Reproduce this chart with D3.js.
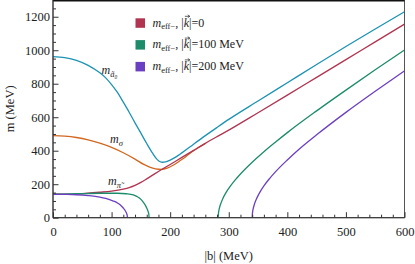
<!DOCTYPE html>
<html><head><meta charset="utf-8">
<script src="https://cdn.jsdelivr.net/npm/d3@7"></script>
<style>
body{margin:0;background:#fff}
svg{display:block}
text{font-family:"Liberation Serif","DejaVu Serif","Noto Serif","Times New Roman",serif !important;fill:#222}
</style>
</head><body>
<svg id="c" width="415" height="264"></svg>
<script>
// ---- data ----
const xTicks = [0, 100, 200, 300, 400, 500, 600];
const yTicks = [0, 200, 400, 600, 800, 1000, 1200];
const xMinor = [20,40,60,80,120,140,160,180,220,240,260,280,320,340,360,380,420,440,460,480,520,540,560,580];
const yMinor = [50,100,150,250,300,350,450,500,550,650,700,750,850,900,950,1050,1100,1150,1250];
const legendLabels = ["0", "100 MeV", "200 MeV"];

// m_a0 (cyan)
const mA0 = [[0,962],[20,956],[40,940],[60,910],[80,865],[90,835],[100,795],[110,748],[120,690],[130,630],[140,566],[150,505],[160,443],[170,385],[178,347],[183,334],[187,331],[192,333],[200,344],[210,363],[220,387],[240,439],[260,490],[280,539],[300,587],[350,697],[400,806],[450,915],[500,1022],[550,1127],[600,1230]];
// m_sigma (orange)
const mSigma = [[0,490],[20,487],[40,479],[60,465],[80,445],[100,420],[120,388],[140,350],[155,318],[165,302],[175,292],[185,289],[195,296],[205,313],[215,336],[225,360],[235,388],[245,412],[260,444]];
// m_eff-, |k|=0  (red, m_pi)
const mK0 = [[0,140],[20,140.5],[40,142],[60,146],[80,152],[100,159],[120,171],[130,180],[140,193],[150,211],[160,232],[170,254],[180,276],[200,318],[220,360],[240,402],[260,444],[280,484],[300,523],[350,627],[400,732],[450,838],[500,944],[550,1050],[600,1156]];
// m_eff-, |k|=100 MeV (green), two branches
const mK100a = [[0,140],[40,143],[80,146],[110,146],[125,143],[137,136],[143,127],[148,116],[152,102],[155,88],[158,72],[160,58],[162,41],[163,29],[163.7,16],[164,0]];
const mK100b = [[282,0],[282.5,28],[283,40],[284,57],[285,70],[287,90],[290,115],[295,148],[300,175],[310,221],[320,261],[340,331],[360,394],[380,452],[400,508],[450,638],[500,762],[550,883],[600,1001]];
// m_eff-, |k|=200 MeV (purple), two branches
const mK200a = [[0,140],[20,139],[40,137],[60,132],[80,123],[90,115],[100,104],[105,97],[110,88],[115,76],[120,58],[123,44],[125,31],[126,22],[126.7,12],[127,0]];
const mK200b = [[340,0],[340.5,29],[341,41],[342,58],[344,83],[347,110],[350,132],[355,163],[360,190],[370,235],[380,275],[400,345],[420,409],[450,495],[500,629],[550,755],[600,877]];

const colA0 = "#1c93b3", colSigma = "#d2681f", colRed = "#b13450", colGreen = "#1c8c6b", colPurple = "#6b3fc2";
const FONT = "'Liberation Serif','DejaVu Serif','Noto Serif','Times New Roman',serif";

// ---- chart ----
const svg = d3.select("#c");
const x = d3.scaleLinear().domain([0, 600]).range([53, 404.5]);
const y = d3.scaleLinear().domain([0, 1300]).range([217.7, 0]);

svg.append("defs").append("clipPath").attr("id","clip")
  .append("rect").attr("x", x(0)).attr("y", y(1300)).attr("width", x(600)-x(0)).attr("height", y(0)-y(1300));

const line = d3.line().x(d => x(d[0])).y(d => y(d[1])).curve(d3.curveMonotoneX);
const g = svg.append("g").attr("clip-path","url(#clip)");
const series = [
  [mA0, colA0], [mSigma, colSigma], [mK0, colRed],
  [mK100a, colGreen], [mK100b, colGreen], [mK200a, colPurple], [mK200b, colPurple]
];
series.forEach(([d, c]) => {
  g.append("path").datum(d).attr("d", line).attr("fill","none").attr("stroke", c).attr("stroke-width", 1.3);
});

// frame
svg.append("rect").attr("x", x(0)).attr("y", 0.5).attr("width", x(600)-x(0)).attr("height", y(0)-0.5)
  .attr("fill","none").attr("stroke","#555").attr("stroke-width",1);
svg.append("line").attr("x1", x(0)).attr("x2", x(600)).attr("y1", 0.8).attr("y2", 0.8)
  .attr("stroke","#111").attr("stroke-width",1.6);
svg.append("line").attr("x1", x(0)).attr("x2", x(0)).attr("y1", 0).attr("y2", y(0))
  .attr("stroke","#333").attr("stroke-width",1);
svg.append("line").attr("x1", x(0)).attr("x2", x(600)).attr("y1", y(0)).attr("y2", y(0))
  .attr("stroke","#333").attr("stroke-width",1);

// axes
function styleAxis(sel){
  sel.attr("font-family", FONT);
  sel.select(".domain").remove();
  sel.selectAll("line").attr("stroke","#333");
  sel.selectAll("text").attr("font-family",FONT).attr("font-size",12.5).attr("fill","#222");
}
const fmt = d3.format("d");
svg.append("g").attr("transform",`translate(0,${y(0)})`)
  .call(d3.axisBottom(x).tickValues(xTicks).tickFormat(fmt).tickSizeInner(-5.5).tickSizeOuter(0).tickPadding(9))
  .call(styleAxis);
svg.append("g").attr("transform",`translate(0,${y(0)})`)
  .call(d3.axisBottom(x).tickValues(xMinor).tickSizeInner(-3).tickSizeOuter(0).tickFormat(""))
  .call(styleAxis);
svg.append("g").attr("transform",`translate(${x(0)},0)`)
  .call(d3.axisLeft(y).tickValues(yTicks).tickFormat(fmt).tickSizeInner(-5.5).tickSizeOuter(0).tickPadding(3))
  .call(styleAxis);
svg.append("g").attr("transform",`translate(${x(0)},0)`)
  .call(d3.axisLeft(y).tickValues(yMinor).tickSizeInner(-3).tickSizeOuter(0).tickFormat(""))
  .call(styleAxis);

// axis titles
svg.append("text").attr("x", (x(0)+x(600))/2).attr("y", 260).attr("text-anchor","middle")
  .attr("font-family",FONT).attr("font-size",12.5).text("|b| (MeV)");
svg.append("text").attr("transform",`translate(14,${y(650)}) rotate(-90)`).attr("text-anchor","middle")
  .attr("font-family",FONT).attr("font-size",12.5).text("m (MeV)");

// curve labels
function mLabel(px, py, sub){
  const t = svg.append("text").attr("x", px).attr("y", py).attr("font-size",12).attr("font-family",FONT);
  t.append("tspan").attr("font-style","italic").text("m");
  t.append("tspan").attr("font-size",8.5).attr("font-style","italic").attr("dy",2.5).text(sub);
  return t;
}
mLabel(101.5, 74, "ã\u2080");
mLabel(110, 143, "σ");
mLabel(108, 185, "π\u0303");

// legend
const legColors = [colRed, colGreen, colPurple];
legendLabels.forEach((lab, i) => {
  const cy = 23 + i * 21.8;
  svg.append("rect").attr("x",135.5).attr("y",cy-4.7).attr("width",9.5).attr("height",9.5).attr("fill",legColors[i]);
  const t = svg.append("text").attr("x",152.5).attr("y",cy+3.5).attr("font-size",12).attr("font-family",FONT);
  t.append("tspan").attr("font-style","italic").text("m");
  t.append("tspan").attr("font-size",8.5).attr("dy",2.5).text("eff\u2212");
  t.append("tspan").attr("dy",-2.5).text(", |");
  t.append("tspan").attr("font-style","italic").text("k");
  t.append("tspan").text("|=" + lab);
  // arrow above k
  const node = t.node();
  const kIndex = ("m" + "eff\u2212" + ", |").length;
  const ext = node.getExtentOfChar(kIndex);
  const ax0 = ext.x + 1.2, ax1 = ext.x + ext.width + 0.8, ay = cy + 3.5 - 10.2;
  svg.append("path").attr("d", `M${ax0},${ay}H${ax1}M${ax1-2},${ay-1.4}L${ax1},${ay}L${ax1-2},${ay+1.4}`)
    .attr("fill","none").attr("stroke","#222").attr("stroke-width",0.7);
});
</script>
</body></html>
